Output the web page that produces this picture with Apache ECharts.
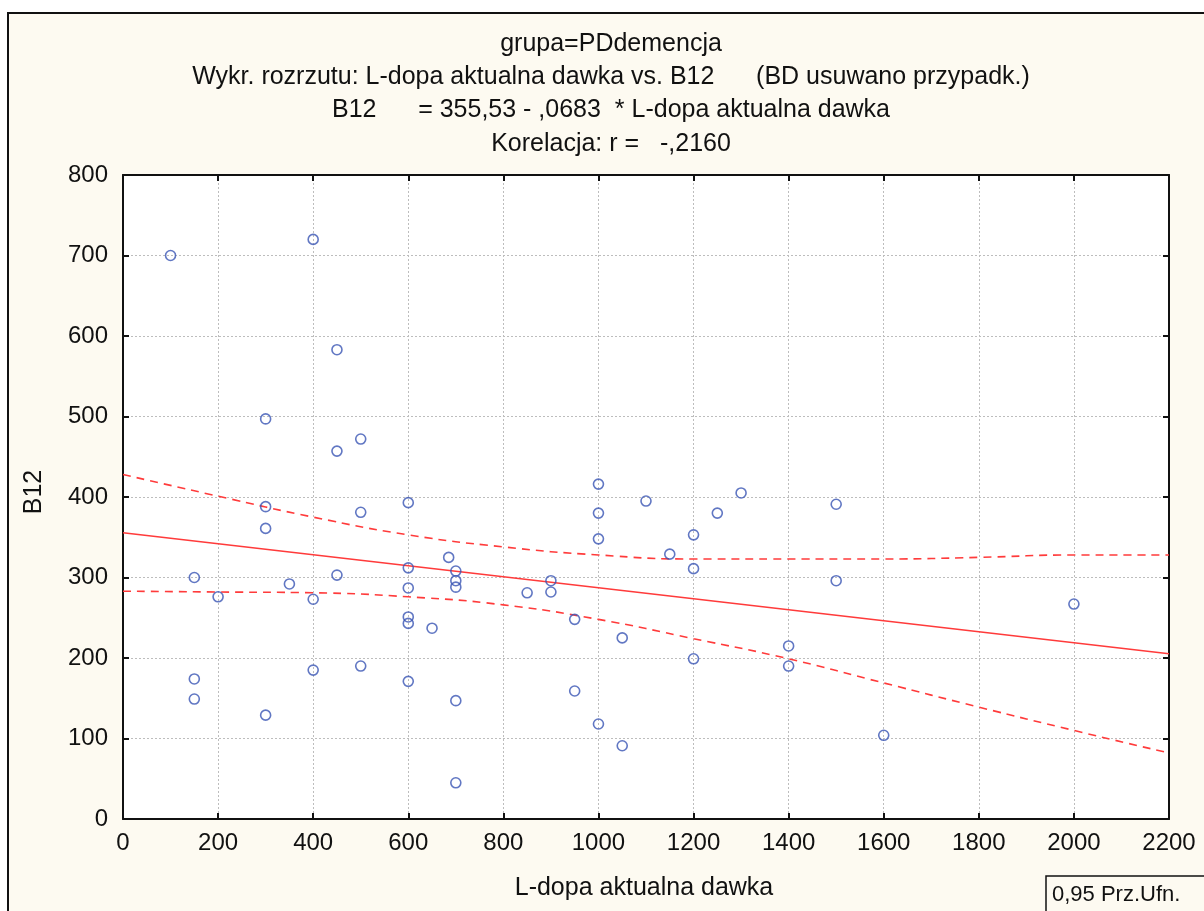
<!DOCTYPE html>
<html>
<head>
<meta charset="utf-8">
<script src="https://cdn.jsdelivr.net/npm/echarts@6/dist/echarts.min.js"></script>
<style>
  html, body { margin: 0; padding: 0; background: #fff; }
  #chart { width: 1204px; height: 911px; }
</style>
</head>
<body>
<div id="chart"></div>
<script>
// punkty: L-dopa aktualna dawka / B12
var dawka = [100, 400, 450, 300, 500, 450, 300, 500, 600, 300, 150, 200, 350, 400, 450, 600, 600, 600, 600, 650,
             685, 700, 700, 700, 150, 150, 300, 400, 500, 600, 700, 700, 850, 900, 900, 950, 950, 1000, 1000, 1000,
             1000, 1050, 1050, 1100, 1150, 1200, 1200, 1200, 1250, 1300, 1400, 1400, 1500, 1500, 1600, 2000];
var b12 = [700, 720, 583, 497, 472, 457, 388, 381, 393, 361, 300, 276, 292, 273, 303, 312, 287, 251, 243, 237,
           325, 308, 296, 288, 174, 149, 129, 185, 190, 171, 147, 45, 281, 296, 282, 248, 159, 416, 380, 348,
           118, 225, 91, 395, 329, 353, 311, 199, 380, 405, 215, 190, 391, 296, 104, 267];

// linia regresji (odczyt z wykresu)
var fitX = [0, 2200];
var fitY = [355.5, 205.3];

// przedzial ufnosci 0,95
var bandX = [0, 200, 400, 600, 800, 1000, 1200, 1400, 1600, 1800, 2000, 2200];
var bandUpper = [428, 401, 375, 353, 338, 328, 323, 323, 323, 325, 328, 328];
var bandLower = [283, 282, 281, 276, 266, 248, 224, 199, 169, 139, 110, 82];

function pairs(xs, ys) {
    var out = [];
    for (var i = 0; i < xs.length; i++) out.push([xs[i], ys[i]]);
    return out;
}

var chart = echarts.init(document.getElementById('chart'));
var font = '"Liberation Sans", Arial, sans-serif';
var red = '#ff3b3b';
var ink = '#111';

var gridLine = { show: true, lineStyle: { color: '#bdbdbd', type: [2, 2], width: 1 } };
var tick = { show: true, inside: true, length: 6, lineStyle: { color: ink, width: 2 } };
var line = { show: true, onZero: false, lineStyle: { color: ink, width: 2 } };
var plain = function (v) { return String(v); };

var option = {
    animation: false,
    backgroundColor: '#ffffff',
    graphic: [
        { type: 'rect', z: -10, shape: { x: 8, y: 13, width: 1220, height: 920 },
          style: { fill: '#fdfaf1', stroke: ink, lineWidth: 2 } },
        { type: 'text', x: 611, y: 44, style: { text: 'grupa=PDdemencja', font: '25px ' + font, fill: ink, textAlign: 'center', textVerticalAlign: 'middle' } },
        { type: 'text', x: 611, y: 77, style: { text: 'Wykr. rozrzutu: L-dopa aktualna dawka vs. B12      (BD usuwano przypadk.)', font: '25px ' + font, fill: ink, textAlign: 'center', textVerticalAlign: 'middle' } },
        { type: 'text', x: 611, y: 110, style: { text: 'B12      = 355,53 - ,0683  * L-dopa aktualna dawka', font: '25px ' + font, fill: ink, textAlign: 'center', textVerticalAlign: 'middle' } },
        { type: 'text', x: 611, y: 144, style: { text: 'Korelacja: r =   -,2160', font: '25px ' + font, fill: ink, textAlign: 'center', textVerticalAlign: 'middle' } },
        { type: 'text', x: 644, y: 888, style: { text: 'L-dopa aktualna dawka', font: '25px ' + font, fill: ink, textAlign: 'center', textVerticalAlign: 'middle' } },
        { type: 'text', x: 34, y: 492, rotation: Math.PI / 2, style: { text: 'B12', font: '25px ' + font, fill: ink, textAlign: 'center', textVerticalAlign: 'middle' } },
        { type: 'rect', shape: { x: 1046, y: 876, width: 170, height: 45 },
          style: { fill: '#fdfaf1', stroke: ink, lineWidth: 1.5 } },
        { type: 'text', x: 1052, y: 895, style: { text: '0,95 Prz.Ufn.', font: '22px ' + font, fill: ink, textVerticalAlign: 'middle' } }
    ],
    grid: {
        left: 123, right: 35, top: 175, bottom: 92,
        show: true, backgroundColor: '#ffffff', borderWidth: 0
    },
    xAxis: [
        {
            type: 'value', min: 0, max: 2200, interval: 200,
            axisLine: line, axisTick: tick,
            axisLabel: { color: ink, fontSize: 24, fontFamily: font, margin: 12, formatter: plain },
            splitLine: gridLine
        },
        {
            type: 'value', position: 'top', min: 0, max: 2200, interval: 200,
            axisLine: line, axisTick: tick,
            axisLabel: { show: false }, splitLine: { show: false }
        }
    ],
    yAxis: [
        {
            type: 'value', min: 0, max: 800, interval: 100,
            axisLine: line, axisTick: tick,
            axisLabel: { color: ink, fontSize: 24, fontFamily: font, margin: 15, formatter: plain },
            splitLine: gridLine
        },
        {
            type: 'value', position: 'right', min: 0, max: 800, interval: 100,
            axisLine: line, axisTick: tick,
            axisLabel: { show: false }, splitLine: { show: false }
        }
    ],
    series: [
        {
            name: 'B12', type: 'scatter', symbol: 'circle', symbolSize: 10,
            data: pairs(dawka, b12),
            itemStyle: { color: 'rgba(0,0,0,0)', borderColor: '#3a55b4', borderWidth: 1.6 },
            z: 5
        },
        {
            name: 'regresja', type: 'line', data: pairs(fitX, fitY), symbol: 'none',
            lineStyle: { color: red, width: 1.6 }
        },
        {
            name: 'gorny', type: 'line', data: pairs(bandX, bandUpper), symbol: 'none', smooth: true,
            lineStyle: { color: red, width: 1.6, type: [8, 6] }
        },
        {
            name: 'dolny', type: 'line', data: pairs(bandX, bandLower), symbol: 'none', smooth: true,
            lineStyle: { color: red, width: 1.6, type: [8, 6] }
        }
    ]
};

chart.setOption(option);
</script>
</body>
</html>
